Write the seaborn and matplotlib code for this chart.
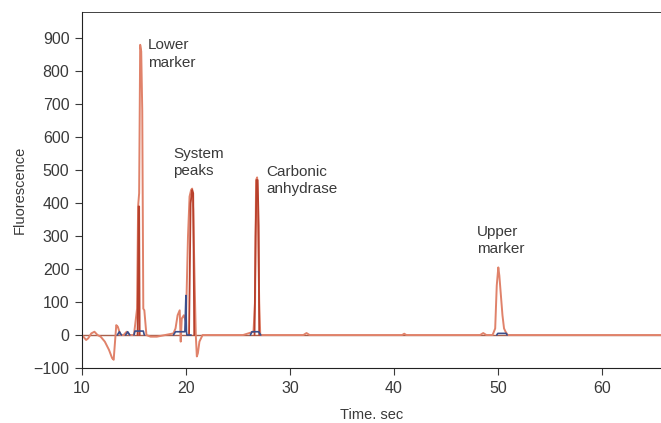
import numpy as np
import pandas as pd
import matplotlib.pyplot as plt
import seaborn as sns

# main trace
time_main = [10, 10.4, 10.6, 10.9, 11.2, 11.5, 11.8, 12.2, 12.6, 12.9, 13.05, 13.3, 13.45, 13.7,
             14.0, 14.3, 14.6, 15.0, 15.3, 15.4, 15.5, 15.6, 15.7, 15.8, 15.9, 16.0, 16.2,
             16.6, 17.2, 18.0, 18.8, 19.0, 19.2, 19.4, 19.5, 19.6, 19.8, 20.0, 20.2, 20.35,
             20.5, 20.6, 20.7, 20.85, 20.95, 21.05, 21.15, 21.3, 21.6, 22.5, 25.5, 26.3,
             26.5, 26.65, 26.75, 26.85, 26.95, 27.05, 27.15, 27.3, 28.5, 31.3, 31.6,
             31.9, 40.8, 41.0, 41.2, 48.3, 48.6, 48.9, 49.5, 49.75, 49.9, 50.05, 50.15, 50.3,
             50.45, 50.6, 50.75, 50.95, 51.2, 66]
fluor_main = [0, -15, -10, 5, 10, 0, -5, -20, -45, -70, -75, 30, 25, 0,
              0, 10, 0, 0, 80, 390, 430, 880, 860, 680, 80, 75, 0,
              -5, -5, 0, 5, 20, 60, 75, -20, 50, 60, 40, 300, 420,
              440, 444, 380, 140, 0, -65, -55, -20, 0, 0, 0, 8,
              10, 100, 470, 478, 300, 100, 0, 0, 0, 0, 6,
              0, 0, 4, 0, 0, 6, 0, 0, 20, 150, 205, 180, 120,
              60, 20, 10, 0, 0, 0]

# darker red overlay on the big peaks
time_dark = [15.35, 15.45, 15.5, 15.55, np.nan, 20.3, 20.45, 20.6, 20.7, 20.8,
             np.nan, 26.6, 26.7, 26.8, 26.9, 27.0, 27.05]
fluor_dark = [0, 390, 390, 0, np.nan, 0, 400, 440, 430, 0,
              np.nan, 0, 300, 470, 470, 330, 0]
seg_dark = [1, 1, 1, 1, 1, 2, 2, 2, 2, 2, 3, 3, 3, 3, 3, 3, 3]

# blue integration marks near the baseline
time_blue = [13.4, 13.6, 13.8, 14.2, 14.4, 14.6,
             15.0, 15.1, 15.9, 16.0,
             18.8, 19.0, 19.9, 20.0, 20.05, 20.1, 20.3, 20.5,
             26.2, 26.35, 27.0, 27.2,
             49.9, 50.0, 50.8, 50.9]
fluor_blue = [0, 10, 0, 0, 10, 0,
              0, 12, 12, 0,
              0, 10, 10, 120, 10, 0, 0, 0,
              0, 10, 10, 0,
              0, 5, 5, 0]
seg_blue = [1, 1, 1, 2, 2, 2,
            3, 3, 3, 3,
            4, 4, 4, 4, 4, 4, 4, 4,
            5, 5, 5, 5,
            6, 6, 6, 6]

peak_names = ["Lower\nmarker", "System\npeaks", "Carbonic\nanhydrase", "Upper\nmarker"]
label_x = [16.35, 18.75, 27.7, 48.0]
label_y = [900, 570, 515, 335]

sns.set_style("ticks")
plt.rcParams['font.family'] = ['Liberation Sans', 'DejaVu Sans']

fig = plt.figure(figsize=(6.61, 4.23), dpi=100)
ax = fig.add_axes([0.124, 0.13, 0.876, 0.842])

main = pd.DataFrame({"t": time_main, "f": fluor_main})
sns.lineplot(data=main, x="t", y="f", sort=False, estimator=None,
             color="#e0826a", lw=1.4, ax=ax)

dark = pd.DataFrame({"t": time_dark, "f": fluor_dark, "seg": seg_dark}).dropna()
sns.lineplot(data=dark, x="t", y="f", units="seg", sort=False, estimator=None,
             color="#b8402c", lw=1.3, ax=ax)

blue = pd.DataFrame({"t": time_blue, "f": fluor_blue, "seg": seg_blue})
sns.lineplot(data=blue, x="t", y="f", units="seg", sort=False, estimator=None,
             color="#3a4f8c", lw=1.2, ax=ax)

# baseline tint
ax.axhline(0, color="#a8604c", lw=1.0, zorder=0.5)

for name, lx, ly in zip(peak_names, label_x, label_y):
    ax.text(lx, ly, name, ha="left", va="top", fontsize=11, color="#3a3a3a",
            linespacing=1.3)

ax.set_xlim(10, 65.7)
ax.set_ylim(-100, 980)
ax.set_xticks([10, 20, 30, 40, 50, 60])
ax.set_yticks(range(-100, 901, 100))
ax.set_yticklabels(["\u2212100"] + [str(v) for v in range(0, 901, 100)])
ax.set_xlabel("Time. sec", fontsize=10.5, color="#3a3a3a", labelpad=9)
ax.set_ylabel("Fluorescence", fontsize=10.5, color="#3a3a3a", labelpad=5)
ax.tick_params(labelsize=11.5, colors="#3a3a3a", length=5, width=0.8, pad=4)
for side in ["left", "bottom", "top"]:
    ax.spines[side].set_color("#222222")
    ax.spines[side].set_linewidth(0.8)
ax.spines["top"].set_linewidth(0.6)
ax.spines["right"].set_visible(False)

fig.savefig("out.png", dpi=100)
